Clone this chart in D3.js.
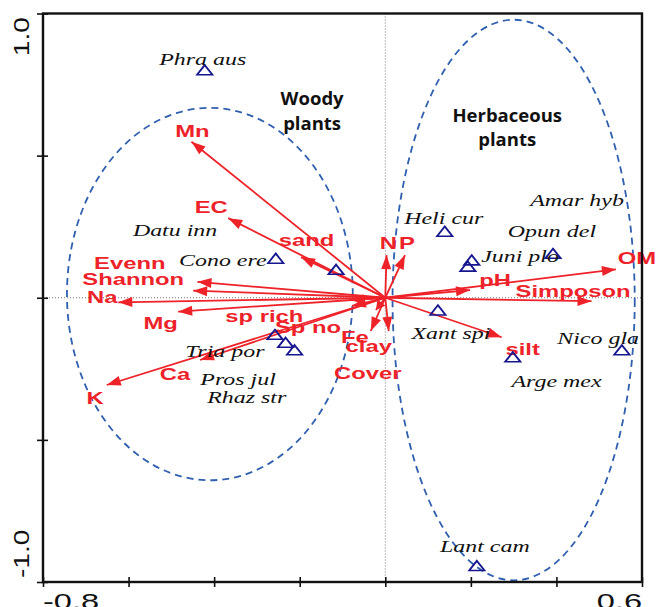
<!DOCTYPE html>
<html>
<head>
<meta charset="utf-8">
<script src="https://cdn.jsdelivr.net/npm/d3@7"></script>
<style>
  html, body { margin: 0; padding: 0; background: #fff; }
  svg { display: block; }
</style>
</head>
<body>
<script>
// CCA biplot: species scores (triangles) and environmental vectors (arrows)

const xTicks = [-0.8, -0.6, -0.4, -0.2, 0, 0.2, 0.4, 0.6];
const yTicks = [-1, -0.5, 0, 0.5, 1];
const xTickLabels = [[-0.8, "-0.8"], [0.6, "0.6"]];
const yTickLabels = [[-1, "-1.0"], [1, "1.0"]];

const envVars = ["Mn", "EC", "sand", "Evenn", "Shannon", "Na", "Mg", "sp rich", "Sp no",
  "Fe", "clay", "Cover", "N", "P", "pH", "OM", "Simposon", "silt", "K", "Ca"];
const envAx1 = [-0.453, -0.367, -0.197, -0.439, -0.449, -0.624, -0.484, -0.083, -0.078,
  -0.022, -0.034, 0.008, 0.003, 0.046, 0.198, 0.539, 0.482, 0.272, -0.651, -0.433];
const envAx2 = [0.549, 0.280, 0.143, 0.056, 0.025, -0.016, -0.049, -0.008, -0.029,
  -0.043, -0.117, -0.117, 0.150, 0.150, 0.027, 0.100, -0.012, -0.139, -0.307, -0.219];

const species = ["Phra aus", "Datu inn", "Cono ere", "Tria por", "Pros jul", "Rhaz str",
  "Heli cur", "Amar hyb", "Opun del", "Juni plo", "Xant spi", "Arge mex", "Nico gla", "Lant cam"];
const spAx1 = [-0.422, -0.115, -0.256, -0.258, -0.233, -0.212,
  0.139, 0.392, 0.193, 0.202, 0.123, 0.298, 0.553, 0.214];
const spAx2 = [0.796, 0.094, 0.133, -0.135, -0.163, -0.189,
  0.228, 0.150, 0.105, 0.127, -0.049, -0.214, -0.189, -0.948];

// group envelopes: centre and radii in axis units
const groupNames = [["Woody", "plants"], ["Herbaceous", "plants"]];
const groupCx = [-0.410, 0.300];
const groupCy = [0.013, -0.008];
const groupRx = [0.334, 0.283];
const groupRy = [0.655, 0.986];
const groupLabelX = [-0.171, 0.285];
const groupLabelY = [0.678, 0.619];

// label placement (pixel offsets from the mark)
const envLabelOffset = {
  "Mn": [1, -10.5], "EC": [-17, -11], "sand": [5.5, -17], "Evenn": [-67.7, -19],
  "Shannon": [-60, -12], "Na": [-16, -5.3], "Mg": [-17.5, 11.3], "sp rich": [-85.5, 15.5],
  "Sp no": [-44, 21], "Fe": [-21, 27], "clay": [-2, 15], "Cover": [-21, 42],
  "N": [1.8, -12.5], "P": [2, -12.5], "pH": [25, -10], "OM": [21, -11],
  "Simposon": [-18.5, -10.7], "silt": [21, 11.7], "K": [-11.7, 13], "Ca": [-25, 14]
};
const spLabelOffset = {
  "Phra aus": [-2, -12.4], "Datu inn": [-161, -40], "Cono ere": [-53, 0.7],
  "Tria por": [-50, 15.7], "Pros jul": [-47.5, 35], "Rhaz str": [-47.8, 46.5],
  "Heli cur": [-1, -14], "Amar hyb": [24, -55], "Opun del": [84, -36],
  "Juni plo": [48.3, -5], "Xant spi": [13, 21.8], "Arge mex": [43.7, 23.2],
  "Nico gla": [-23.7, -13.2], "Lant cam": [8, -20.3]
};

const W = 658, H = 607;
const margin = { left: 43, right: 16, top: 13.5, bottom: 25 };
const RED = "#ee2229", NAVY = "#16168f", BLUE = "#2f5fae";

const svg = d3.select("body").append("svg").attr("width", W).attr("height", H);

const x = d3.scaleLinear().domain([-0.8, 0.6]).range([margin.left, W - margin.right]);
const y = d3.scaleLinear().domain([-1, 1]).range([H - margin.bottom, margin.top]);

// zero reference lines
svg.append("line")
  .attr("x1", x(0)).attr("x2", x(0)).attr("y1", y(1)).attr("y2", y(-1))
  .attr("stroke", "#777").attr("stroke-width", 1).attr("stroke-dasharray", "1,2");
svg.append("line")
  .attr("x1", x(-0.8)).attr("x2", x(0.6)).attr("y1", y(0)).attr("y2", y(0))
  .attr("stroke", "#777").attr("stroke-width", 1).attr("stroke-dasharray", "1,2");

// group envelopes
const kx = x(1) - x(0), ky = y(0) - y(1);
svg.selectAll("ellipse.grp").data(groupCx).join("ellipse")
  .attr("class", "grp")
  .attr("cx", (d, i) => x(groupCx[i]))
  .attr("cy", (d, i) => y(groupCy[i]))
  .attr("rx", (d, i) => groupRx[i] * kx)
  .attr("ry", (d, i) => groupRy[i] * ky)
  .attr("fill", "none").attr("stroke", BLUE).attr("stroke-width", 1.8)
  .attr("stroke-dasharray", "7,5");

// environmental vectors
const env = envVars.map((n, i) => ({ name: n, a1: envAx1[i], a2: envAx2[i] }));
const ox = x(0), oy = y(0);
svg.selectAll("line.vec").data(env).join("line")
  .attr("class", "vec")
  .attr("x1", ox).attr("y1", oy)
  .attr("x2", d => x(d.a1)).attr("y2", d => y(d.a2))
  .attr("stroke", RED).attr("stroke-width", 1.8);

function headPoints(d) {
  const tx = x(d.a1), ty = y(d.a2);
  const dx = tx - ox, dy = ty - oy, L = Math.hypot(dx, dy);
  const ux = dx / L, uy = dy / L;
  const len = Math.min(14, L * 0.6), hw = 5;
  const bx = tx - ux * len, by = ty - uy * len;
  return [[tx, ty], [bx - uy * hw, by + ux * hw], [bx + uy * hw, by - ux * hw]]
    .map(p => p.join(",")).join(" ");
}
svg.selectAll("polygon.head").data(env).join("polygon")
  .attr("class", "head")
  .attr("points", headPoints)
  .attr("fill", RED);

svg.selectAll("text.env").data(env).join("text")
  .attr("class", "env")
  .attr("transform", d => {
    const o = envLabelOffset[d.name];
    return `translate(${x(d.a1) + o[0]},${y(d.a2) + o[1]}) scale(1.4,1)`;
  })
  .attr("text-anchor", "middle").attr("dy", "0.36em")
  .attr("font-family", "'Liberation Sans', Arial, sans-serif")
  .attr("font-weight", "bold").attr("font-size", 17)
  .attr("fill", RED)
  .text(d => d.name);

// species scores
const sp = species.map((n, i) => ({ name: n, a1: spAx1[i], a2: spAx2[i] }));
const tri = d3.symbol().type(d3.symbolTriangle).size(60);
svg.selectAll("path.sp").data(sp).join("path")
  .attr("class", "sp")
  .attr("transform", d => `translate(${x(d.a1)},${y(d.a2)}) scale(1.3,0.95)`)
  .attr("d", tri())
  .attr("fill", "none").attr("stroke", NAVY).attr("stroke-width", 1.6);

svg.selectAll("text.sp").data(sp).join("text")
  .attr("class", "sp")
  .attr("transform", d => {
    const o = spLabelOffset[d.name];
    return `translate(${x(d.a1) + o[0]},${y(d.a2) + o[1]}) scale(1.45,1)`;
  })
  .attr("text-anchor", "middle").attr("dy", "0.33em")
  .attr("font-family", "'Liberation Serif', 'Times New Roman', serif")
  .attr("font-style", "italic").attr("font-size", 16.5)
  .attr("fill", "#111")
  .text(d => d.name);

// group titles
groupNames.forEach((lines, i) => {
  const t = svg.append("text")
    .attr("x", x(groupLabelX[i])).attr("y", y(groupLabelY[i]))
    .attr("text-anchor", "middle")
    .attr("font-family", "'Open Sans', sans-serif")
    .attr("font-weight", "bold").attr("font-size", 18.5).attr("fill", "#111");
  lines.forEach((s, j) => t.append("tspan")
    .attr("x", x(groupLabelX[i])).attr("dy", j === 0 ? 0 : 24.5).text(s));
});

// axes
const gx = svg.append("g").attr("transform", `translate(0,${y(-1)})`)
  .call(d3.axisBottom(x).tickValues(xTicks).tickFormat("").tickSize(5));
gx.selectAll(".tick line").attr("y1", -5).attr("y2", 5)
  .attr("stroke", "#111").attr("stroke-width", 1.6);
gx.select(".domain").remove();

const gy = svg.append("g").attr("transform", `translate(${x(-0.8)},0)`)
  .call(d3.axisLeft(y).tickValues(yTicks).tickFormat("").tickSize(6));
gy.selectAll(".tick line").attr("x1", 5).attr("x2", -6)
  .attr("stroke", "#111").attr("stroke-width", 1.6);
gy.select(".domain").remove();

// frame
svg.append("rect")
  .attr("x", x(-0.8)).attr("y", y(1))
  .attr("width", x(0.6) - x(-0.8)).attr("height", y(-1) - y(1))
  .attr("fill", "none").attr("stroke", "#111").attr("stroke-width", 2.4);

// end tick labels
xTickLabels.forEach(([v, s], i) => {
  svg.append("text")
    .attr("transform", `translate(${x(v)},${y(-1) + 27}) scale(1.48,1)`)
    .attr("text-anchor", i === 0 ? "start" : "end")
    .attr("font-family", "'Liberation Sans', Arial, sans-serif")
    .attr("font-size", 22).attr("fill", "#111")
    .text(s);
});
yTickLabels.forEach(([v, s], i) => {
  const py = v < 0 ? y(v) - 4 : y(v) + 3.5;
  svg.append("text")
    .attr("transform", `translate(28.5,${py}) rotate(-90) scale(1.28,1)`)
    .attr("text-anchor", v < 0 ? "start" : "end")
    .attr("font-family", "'Liberation Sans', Arial, sans-serif")
    .attr("font-size", 22).attr("fill", "#111")
    .text(s);
});
</script>
</body>
</html>
